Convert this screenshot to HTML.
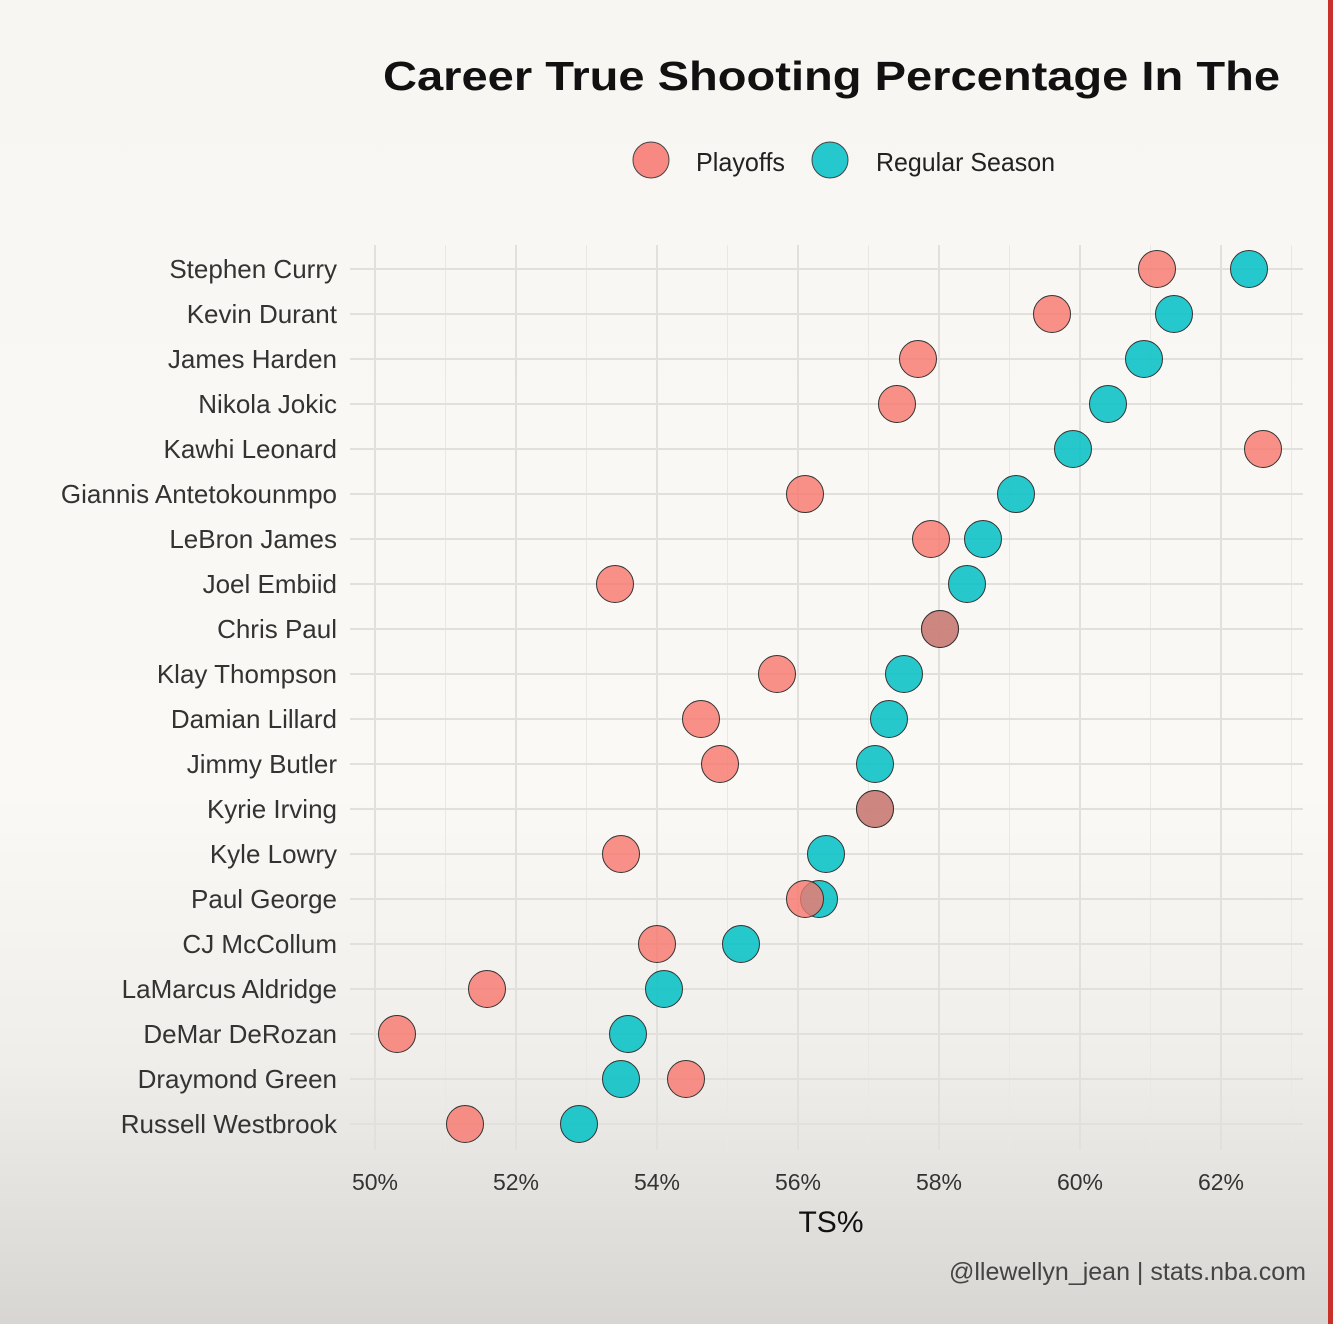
<!DOCTYPE html>
<html><head><meta charset="utf-8"><style>
html,body{margin:0;padding:0}
body{width:1333px;height:1324px;overflow:hidden;background:linear-gradient(#f8f6f2 0%,#fbf9f5 60%,#f0eeea 80%,#d8d6d3 100%);font-family:"Liberation Sans",sans-serif}
</style></head><body>
<svg width="1333" height="1324" xmlns="http://www.w3.org/2000/svg" style="position:absolute;left:0;top:0">
<rect x="1328" y="0" width="5" height="1324" fill="#c8302a"/>
<text x="383" y="90" font-size="41" font-weight="bold" fill="#111" textLength="897" lengthAdjust="spacingAndGlyphs">Career True Shooting Percentage In The</text>
<circle cx="651" cy="160" r="18" fill="#F8766D" fill-opacity="0.85" stroke="#444" stroke-width="1"/>
<text x="696" y="171" font-size="26" fill="#222" textLength="89" lengthAdjust="spacingAndGlyphs">Playoffs</text>
<circle cx="830" cy="160" r="18" fill="#00BFC4" fill-opacity="0.85" stroke="#444" stroke-width="1"/>
<text x="876" y="171" font-size="26" fill="#222" textLength="179" lengthAdjust="spacingAndGlyphs">Regular Season</text>
<g stroke="#eae8e4" stroke-width="1">
<line x1="445.5" y1="245" x2="445.5" y2="1150"/><line x1="586.5" y1="245" x2="586.5" y2="1150"/><line x1="727.5" y1="245" x2="727.5" y2="1150"/><line x1="868.5" y1="245" x2="868.5" y2="1150"/><line x1="1009.5" y1="245" x2="1009.5" y2="1150"/><line x1="1150.5" y1="245" x2="1150.5" y2="1150"/><line x1="1291.5" y1="245" x2="1291.5" y2="1150"/>
</g>
<g stroke="#e2e0dc" stroke-width="2">
<line x1="375" y1="245" x2="375" y2="1150"/><line x1="516" y1="245" x2="516" y2="1150"/><line x1="657" y1="245" x2="657" y2="1150"/><line x1="798" y1="245" x2="798" y2="1150"/><line x1="939" y1="245" x2="939" y2="1150"/><line x1="1080" y1="245" x2="1080" y2="1150"/><line x1="1221" y1="245" x2="1221" y2="1150"/>
</g>
<g id="rows" stroke="#e2e0dc" stroke-width="2"></g>
<g id="labels" font-size="26" fill="#333" text-anchor="end"></g>
<g id="pts"></g>
<g font-size="23" fill="#333" text-anchor="middle">
<text x="375" y="1190">50%</text><text x="516" y="1190">52%</text><text x="657" y="1190">54%</text><text x="798" y="1190">56%</text><text x="939" y="1190">58%</text><text x="1080" y="1190">60%</text><text x="1221" y="1190">62%</text>
</g>
<text x="831" y="1232" font-size="30" fill="#111" text-anchor="middle">TS%</text>
<text x="1306" y="1280" font-size="25" fill="#444" text-anchor="end">@llewellyn_jean | stats.nba.com</text>
</svg>
<script>
var d=[["Stephen Curry",1157,1249],["Kevin Durant",1052,1174],["James Harden",918,1144],["Nikola Jokic",897,1108],["Kawhi Leonard",1263,1073],["Giannis Antetokounmpo",805,1016],["LeBron James",931,983],["Joel Embiid",615,967],["Chris Paul",940,940],["Klay Thompson",777,904],["Damian Lillard",701,889],["Jimmy Butler",720,875],["Kyrie Irving",875,875],["Kyle Lowry",621,826],["Paul George",805,819],["CJ McCollum",657,741],["LaMarcus Aldridge",487,664],["DeMar DeRozan",397,628],["Draymond Green",686,621],["Russell Westbrook",465,579]];
var ns="http://www.w3.org/2000/svg",R=document.getElementById("rows"),L=document.getElementById("labels"),P=document.getElementById("pts");
function el(t,a,p){var e=document.createElementNS(ns,t);for(var k in a)e.setAttribute(k,a[k]);p.appendChild(e);return e;}
d.forEach(function(r,i){var y=269+i*45;
el("line",{x1:350,x2:1303,y1:y,y2:y},R);
el("text",{x:337,y:y+9},L).textContent=r[0];
el("circle",{cx:r[2],cy:y,r:18.5,fill:"#00BFC4","fill-opacity":0.85,stroke:"#333","stroke-width":1},P);});
d.forEach(function(r,i){var y=269+i*45;
el("circle",{cx:r[1],cy:y,r:18.5,fill:"#F8766D","fill-opacity":0.8,stroke:"#333","stroke-width":1},P);});
</script>
</body></html>
